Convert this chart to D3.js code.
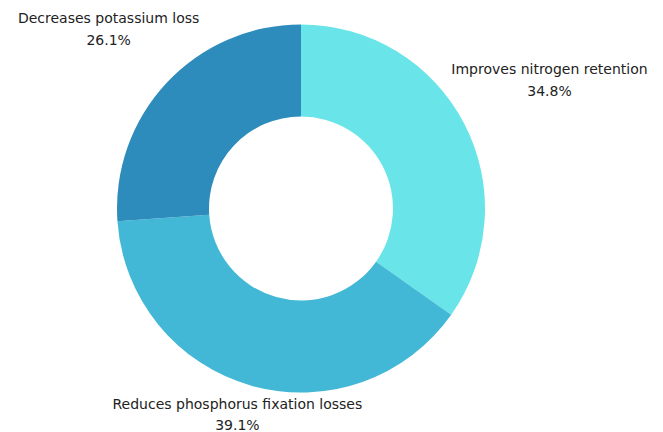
<!DOCTYPE html>
<html><head><meta charset="utf-8">
<script src="https://cdn.jsdelivr.net/npm/d3@7"></script>
<style>body{margin:0;background:#fff}svg{display:block}</style>
</head><body><svg id="c" width="663" height="432"></svg>
<script>
const categories = ["Improves nitrogen retention","Reduces phosphorus fixation losses","Decreases potassium loss"];
const values = [34.8, 39.1, 26.1];
const colors = ["#69e4e8","#42b8d6","#2e8cbc"];

const W=663,H=432, cx=301, cy=208.5, R=184, r=92;
const svg=d3.select("#c");
const g=svg.append("g").attr("transform",`translate(${cx},${cy})`);
const pie=d3.pie().sort(null).value(d=>d)(values);
const arc=d3.arc().innerRadius(r).outerRadius(R);
g.selectAll("path").data(pie).join("path").attr("d",arc).attr("fill",(d,i)=>colors[i]);

const font="'DejaVu Sans', sans-serif";
const lh=21.5, fs=14;
pie.forEach((d,i)=>{
  const a=(d.startAngle+d.endAngle)/2;
  const ux=Math.sin(a), uy=-Math.cos(a);
  const t=svg.append("text").attr("font-family",font).attr("font-size",fs).attr("fill","#222").attr("text-anchor","middle");
  t.append("tspan").attr("x",0).attr("dy",0).text(categories[i]);
  t.append("tspan").attr("x",0).attr("dy",lh).text(d3.format(".1f")(values[i])+"%");
  const bb=t.node().getBBox();
  const w=bb.width,h=bb.height;
  const ext=(w/2)*Math.abs(ux)+(h/2)*Math.abs(uy);
  const dist=184+ext;
  let bx=cx+ux*dist, by=cy+uy*dist;
  by=Math.min(by, H+1-h/2);
  const topOff=bb.y;
  t.attr("transform",`translate(${bx},${by-h/2-topOff})`);
});
</script></body></html>
